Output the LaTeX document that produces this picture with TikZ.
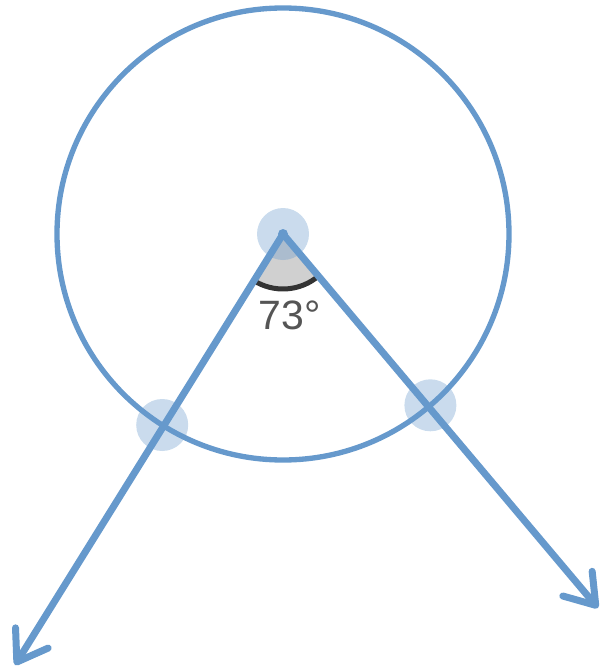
\documentclass[tikz,border=0pt]{standalone}
\usepackage{fontspec}
\setmainfont{Liberation Sans}
\usetikzlibrary{arrows.meta,calc}
\definecolor{rayblue}{RGB}{102,153,204}
\definecolor{anglegray}{RGB}{208,208,208}
\definecolor{arcdark}{RGB}{51,51,51}
\definecolor{labelgray}{RGB}{85,85,85}
\tikzset{
  ray/.style={rayblue, line width=0.21cm, line cap=round,
    -{Straight Barb[length=0.85cm, width=1.15cm, round]}},
  halo/.style={fill=rayblue, fill opacity=0.35, draw=none}
}

\begin{document}
\begin{tikzpicture}[x=0.03cm, y=-0.03cm]
            \useasboundingbox (0, 0) rectangle (600, 671);
            % Define points
            \coordinate (O) at (283, 234);
            \coordinate (A) at (162.2, 425);
            \coordinate (B) at (430.4, 405.3);
            \coordinate (P) at (15, 665);
            \coordinate (Q) at (598, 608);
            % Draw the angle
            \fill[anglegray] (O) -- ++(49.7:55) arc (49.7:122.4:55) -- cycle;
            \draw[arcdark, line width=0.15cm] ($(O)+(49.7:55)$) arc (49.7:122.4:55);
            \node[labelgray, font=\fontsize{35}{40}\selectfont] (ang) at (290, 315) {73°};
            % Draw the circle
            \draw[rayblue, line width=0.16cm] (O) circle (226);
            % Mark points
            \fill[halo] (O) circle (26);
            \fill[halo] (A) circle (26);
            \fill[halo] (B) circle (26);
            % Draw the rays
            \draw[ray] (O) -- (P);
            \draw[ray] (O) -- (Q);
            \fill[rayblue] (O) circle (5);
          \end{tikzpicture}
\end{document}
